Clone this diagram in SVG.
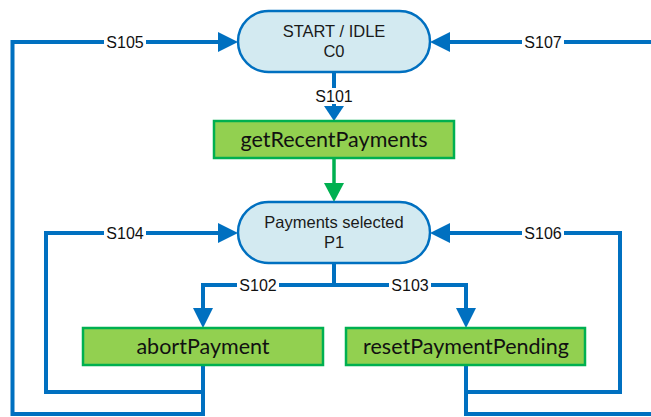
<svg xmlns="http://www.w3.org/2000/svg" width="651" height="417" viewBox="0 0 651 417">
<defs>
<style>
.bg{fill:#ffffff}
.state{fill:#D3EAF1;stroke:#0070C0;stroke-width:2.5}
.stext{font-family:"Liberation Sans",Arial,sans-serif;font-size:16.5px;fill:#1a1a1a;text-anchor:middle}
.act{fill:#92D050;stroke:#00B050;stroke-width:2.5}
.atext{font-family:Lato,"Open Sans",sans-serif;font-size:21.5px;fill:#111;text-anchor:middle}
.wire{fill:none;stroke:#0070C0;stroke-width:4;stroke-linejoin:miter}
.gwire{fill:none;stroke:#00B050;stroke-width:3.5}
.lbl{font-family:"Liberation Sans",Arial,sans-serif;font-size:16px;fill:#111;text-anchor:middle}
.lblbg{fill:#ffffff}
.head{fill:#0070C0}
.ghead{fill:#00B050}
</style>
</defs>
<rect class="bg" x="0" y="0" width="651" height="417"/>
<g id="connectors">
  <!-- S105 -->
  <path class="wire" d="M203,365 V414 H12.5 V42 H220"/>
  <polygon class="head" points="238,42 218,32 218,52"/>
  <rect class="lblbg" x="104" y="34" width="42" height="16"/>
  <text class="lbl" x="125" y="48">S105</text>
  <!-- S107 -->
  <path class="wire" d="M466,365 V414 H655 M651,42 H448"/>
  <polygon class="head" points="430,42 450,32 450,52"/>
  <rect class="lblbg" x="522" y="34" width="42" height="16"/>
  <text class="lbl" x="543" y="48">S107</text>
  <!-- S101 -->
  <path class="wire" d="M334,72 V108"/>
  <polygon class="head" points="334,121 324,106 344,106"/>
  <rect class="lblbg" x="313" y="88" width="42" height="16"/>
  <text class="lbl" x="334" y="102">S101</text>
  <!-- green -->
  <path class="gwire" d="M334,158 V186"/>
  <polygon class="ghead" points="334,202 324,183 344,183"/>
  <!-- S104 -->
  <path class="wire" d="M203,392 H46 V233 H220"/>
  <polygon class="head" points="238,233 218,223 218,243"/>
  <rect class="lblbg" x="104" y="225" width="42" height="16"/>
  <text class="lbl" x="125" y="239">S104</text>
  <!-- S106 -->
  <path class="wire" d="M466,392 H620 V233 H448"/>
  <polygon class="head" points="430,233 450,223 450,243"/>
  <rect class="lblbg" x="522" y="225" width="42" height="16"/>
  <text class="lbl" x="543" y="239">S106</text>
  <!-- S102 / S103 -->
  <path class="wire" d="M334,263 V285 M203,312 V285 H466 V312"/>
  <polygon class="head" points="203,328 193,308 213,308"/>
  <polygon class="head" points="466,328 456,308 476,308"/>
  <rect class="lblbg" x="237" y="277" width="42" height="16"/>
  <text class="lbl" x="258" y="291">S102</text>
  <rect class="lblbg" x="389" y="277" width="42" height="16"/>
  <text class="lbl" x="410" y="291">S103</text>
</g>
<g id="node-c0">
  <rect class="state" x="238" y="11" width="192" height="61" rx="30.5" ry="30.5"/>
  <text class="stext" x="334" y="37">START / IDLE</text>
  <text class="stext" x="334" y="57">C0</text>
</g>
<g id="node-getRecentPayments">
  <rect class="act" x="214" y="121" width="240" height="37"/>
  <text class="atext" x="334" y="147">getRecentPayments</text>
</g>
<g id="node-p1">
  <rect class="state" x="238" y="202" width="192" height="61" rx="30.5" ry="30.5"/>
  <text class="stext" x="334" y="228">Payments selected</text>
  <text class="stext" x="334" y="248">P1</text>
</g>
<g id="node-abortPayment">
  <rect class="act" x="83" y="328" width="240" height="37"/>
  <text class="atext" x="203" y="354">abortPayment</text>
</g>
<g id="node-resetPaymentPending">
  <rect class="act" x="346" y="328" width="239" height="37"/>
  <text class="atext" x="466" y="354">resetPaymentPending</text>
</g>
</svg>
